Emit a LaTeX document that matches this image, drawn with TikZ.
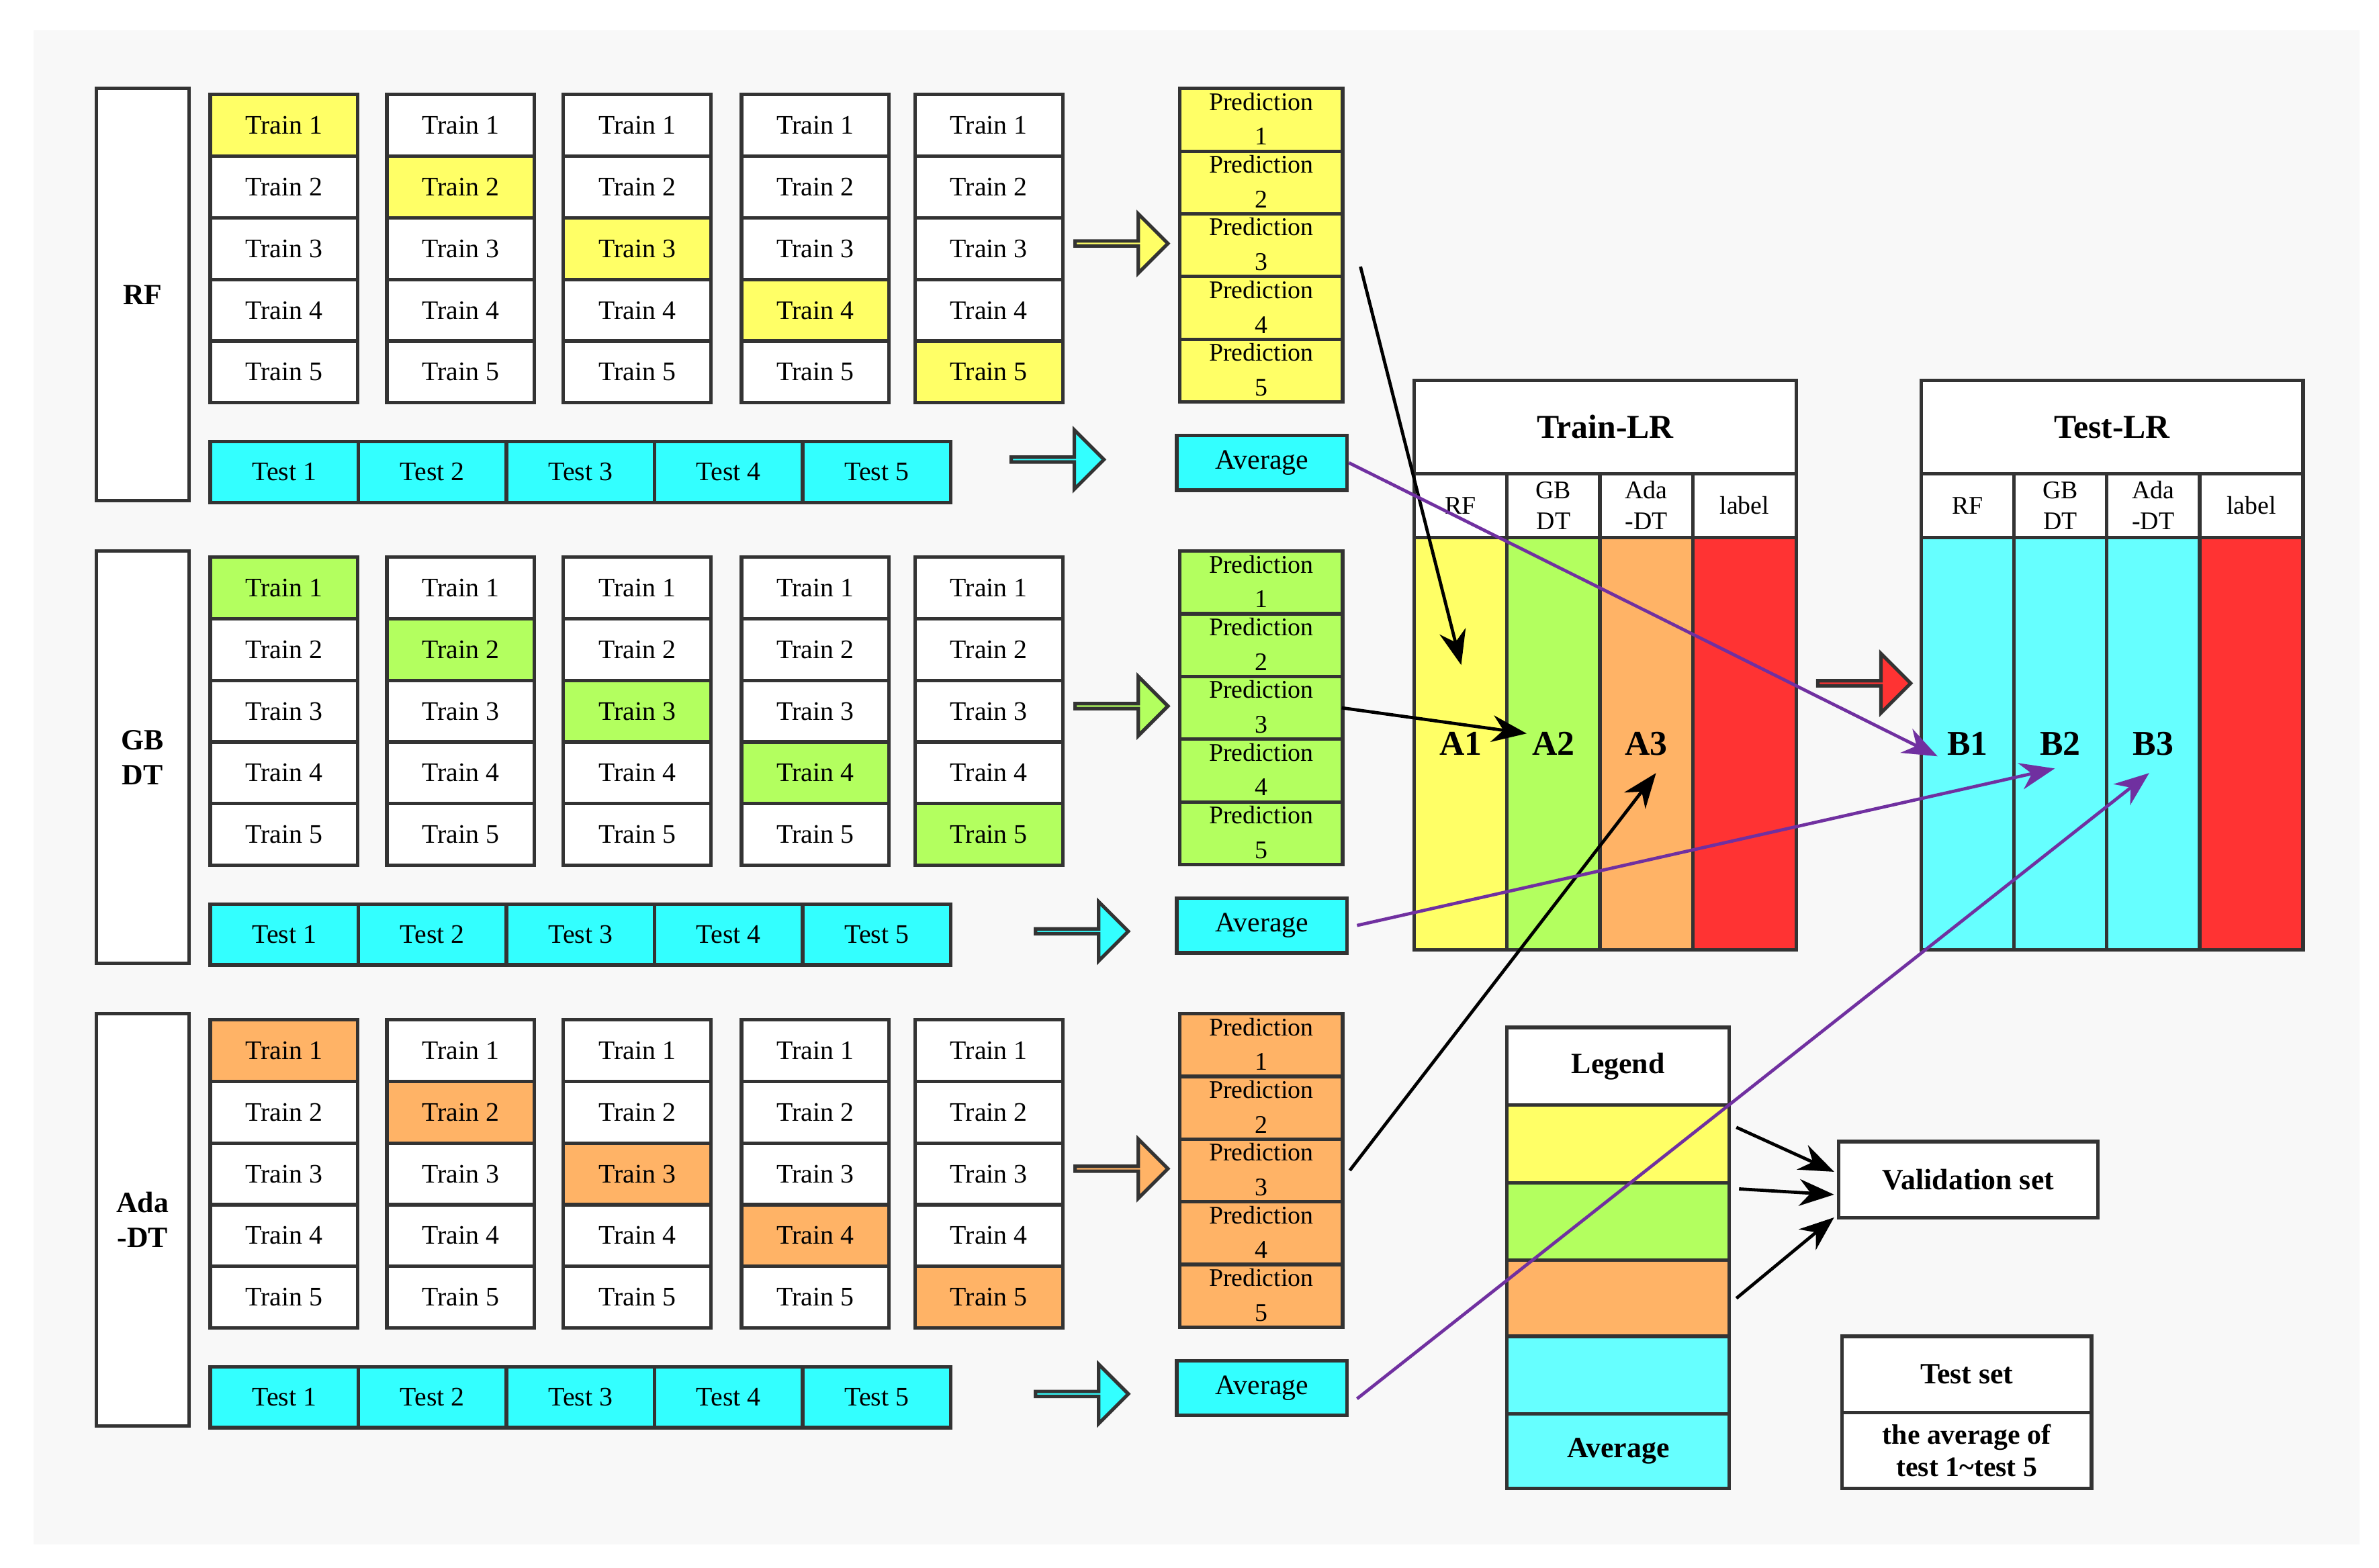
\documentclass[tikz,border=0pt]{standalone}
\usepackage{fontspec}
\setmainfont{Liberation Serif}
\usetikzlibrary{shapes.arrows,arrows.meta}
\definecolor{bd}{HTML}{333333}
\definecolor{cy}{HTML}{FFFF66}
\definecolor{cg}{HTML}{B3FF5F}
\definecolor{co}{HTML}{FFB366}
\definecolor{ct}{HTML}{33FFFF}
\definecolor{cl}{HTML}{66FFFF}
\definecolor{cr}{HTML}{FF3333}
\definecolor{pu}{HTML}{7030A0}
\definecolor{bgc}{HTML}{F8F8F8}
\begin{document}
\begin{tikzpicture}[x=0.02cm,y=-0.02cm,
  cell/.style={draw=bd,line width=1.3pt,inner sep=0pt,anchor=north west,font=\fontsize{10}{12}\selectfont},
  hol/.style={single arrow,draw=bd,line width=1.3pt,minimum height=61*0.02cm,minimum width=0.78cm,single arrow head extend=0.25cm,inner sep=0pt},
  bl/.style={black,line width=1.2pt,-{Stealth[length=13pt,width=10pt]}},
  pl/.style={pu,line width=1.2pt,-{Stealth[length=13pt,width=10pt]}}]
\fill[white] (0,0) rectangle (1563,1030);
\fill[bgc] (22,20) rectangle (1550,1015);
\useasboundingbox (0,0) rectangle (1563,1030);
\foreach \g/\col/\name in {0/cy/RF,1/cg/{GB\\DT},2/co/{Ada\\-DT}}{
  \pgfmathsetmacro\dy{304*\g}
  \node[cell,fill=white,minimum width=61*0.02cm,minimum height=271*0.02cm,font=\fontsize{11}{13}\selectfont\bfseries,align=center] (lab\g) at (62,57+\dy) {\name};
  \foreach \c/\x in {1/137,2/253,3/369,4/486,5/600}{
    \foreach \r in {1,...,5}{
      \ifnum\c=\r\def\fc{\col}\else\def\fc{white}\fi
      \node[cell,fill=\fc,minimum width=97*0.02cm,minimum height=40.5*0.02cm] (t\g-\c-\r) at (\x,61+40.5*\r-40.5+\dy) {Train \r};
    }
  }
  \foreach \c in {1,...,5}{
    \node[cell,fill=ct,minimum width=97.3*0.02cm,minimum height=40*0.02cm] (s\g-\c) at (137+97.3*\c-97.3,289+\dy) {Test \c};
  }
  \foreach \r in {1,...,5}{
    \node[cell,fill=\col,minimum width=107*0.02cm,minimum height=41.2*0.02cm] (p\g-\r) at (774,57+41.2*\r-41.2+\dy) {};
    \node[anchor=north,align=center,inner sep=1pt,font=\fontsize{9.5}{13}\selectfont] (pt\g-\r) at ([yshift=-1pt]p\g-\r.north) {Prediction\\\r};
  }
  \node[cell,fill=ct,minimum width=112*0.02cm,minimum height=36*0.02cm,font=\fontsize{10.5}{12}\selectfont] (av\g) at (772,285+\dy) {Average};
  \node[hol,fill=\col] (ha\g) at (736,160+\dy) {};
}
\node[hol,fill=ct] (ta0) at (694,302) {};
\node[hol,fill=ct] (ta1) at (710,612) {};
\node[hol,fill=ct] (ta2) at (710,916) {};
% LR tables
\foreach \n/\X/\T in {tr/928/Train-LR,te/1261/Test-LR}{
  \node[cell,fill=white,minimum width=251*0.02cm,minimum height=61*0.02cm,font=\fontsize{12.5}{14}\selectfont\bfseries] (\n-h) at (\X,249) {\T};
}
\foreach \c/\dx/\w/\lab in {1/0/61/RF,2/61/61/{GB\\DT},3/122/61/{Ada\\-DT},4/183/68/label}{
  \node[cell,fill=white,minimum width=\w*0.02cm,minimum height=42*0.02cm,align=center,font=\fontsize{9.5}{11.5}\selectfont] (tr-k\c) at (928+\dx,310) {\lab};
  \node[cell,fill=white,minimum width=\w*0.02cm,minimum height=42*0.02cm,align=center,font=\fontsize{9.5}{11.5}\selectfont] (te-k\c) at (1261+\dx,310) {\lab};
}
\foreach \c/\dx/\w/\f/\lab in {1/0/61/cy/A1,2/61/61/cg/A2,3/122/61/co/A3,4/183/68/cr/{}}{
  \node[cell,fill=\f,minimum width=\w*0.02cm,minimum height=271*0.02cm,font=\fontsize{13}{15}\selectfont\bfseries] (tr-b\c) at (928+\dx,352) {\lab};
}
\foreach \c/\dx/\w/\f/\lab in {1/0/61/cl/B1,2/61/61/cl/B2,3/122/61/cl/B3,4/183/68/cr/{}}{
  \node[cell,fill=\f,minimum width=\w*0.02cm,minimum height=271*0.02cm,font=\fontsize{13}{15}\selectfont\bfseries] (te-b\c) at (1261+\dx,352) {\lab};
}
\node[hol,fill=cr] (ra) at (1224,449) {};
% legend
\node[cell,fill=white,minimum width=146*0.02cm,minimum height=51*0.02cm,font=\fontsize{11}{13}\selectfont\bfseries] (lg) at (989,674) {Legend};
\node[cell,fill=cy,minimum width=146*0.02cm,minimum height=51*0.02cm] (lg1) at (989,725) {};
\node[cell,fill=cg,minimum width=146*0.02cm,minimum height=51*0.02cm] (lg2) at (989,776) {};
\node[cell,fill=co,minimum width=146*0.02cm,minimum height=50*0.02cm] (lg3) at (989,827) {};
\node[cell,fill=cl,minimum width=146*0.02cm,minimum height=51*0.02cm] (lg4) at (989,877) {};
\node[cell,fill=cl,minimum width=146*0.02cm,minimum height=49*0.02cm,font=\fontsize{11}{13}\selectfont\bfseries] (lg5) at (989,928) {Average};
\node[cell,fill=white,minimum width=170*0.02cm,minimum height=50*0.02cm,font=\fontsize{11}{13}\selectfont\bfseries] (val) at (1207,749) {Validation set};
\node[cell,fill=white,minimum width=164*0.02cm,minimum height=50*0.02cm,font=\fontsize{11}{13}\selectfont\bfseries] (ts) at (1209,877) {Test set};
\node[cell,fill=white,minimum width=164*0.02cm,minimum height=50*0.02cm,align=center,font=\fontsize{10.5}{12}\selectfont\bfseries] (ts2) at (1209,927) {the average of\\test 1\textasciitilde test 5};
% connectors
\coordinate (eA1) at (960,437);
\coordinate (eA2) at (1003,482);
\coordinate (eA3) at (1088,508);
\coordinate (eB1) at (1273,497);
\coordinate (eB2) at (1350,505);
\coordinate (eB3) at (1412,508);
\coordinate (v1) at (1205,770);
\coordinate (v2) at (1205,785);
\coordinate (v3) at (1205,800);
\draw[bl] ([xshift=6pt,yshift=-8pt]p0-3.east) -- (eA1);
\draw[bl] ([xshift=-1pt]p1-3.east) -- (eA2);
\draw[bl] ([xshift=2pt]p2-3.east) -- (eA3);
\draw[pl] (av0.east) -- (eB1);
\draw[pl] ([xshift=3pt]av1.east) -- (eB2);
\draw[pl] ([xshift=3pt,yshift=-4pt]av2.east) -- (eB3);
\draw[bl] ([xshift=2pt,yshift=-9pt]lg1.north east) -- (v1);
\draw[bl] ([xshift=3pt,yshift=-3pt]lg2.north east) -- (v2);
\draw[bl] ([xshift=2pt]lg3.east) -- (v3);
\end{tikzpicture}
\end{document}
